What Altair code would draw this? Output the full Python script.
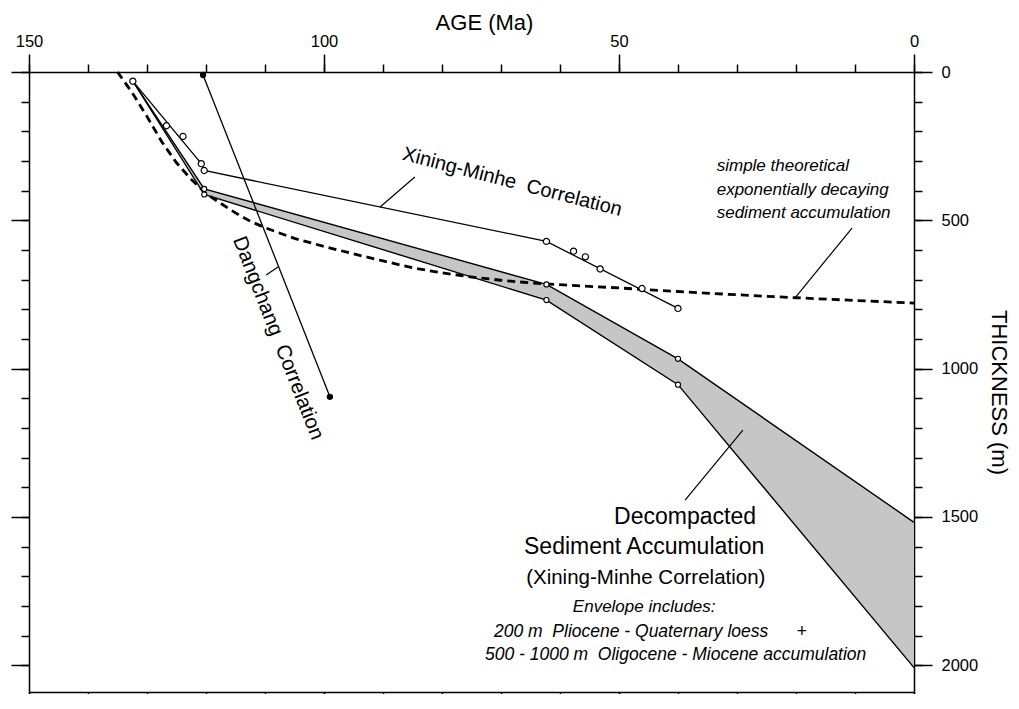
import altair as alt
import pandas as pd

# ---------------- data ----------------
# Dangchang correlation (filled dots)
dang_age = [120.5, 99.0]
dang_thk = [10, 1095]

# Xining-Minhe correlation: line vertices and observed points
xm_line_age = [132.4, 120.8, 120.3, 62.3, 40.0]
xm_line_thk = [31, 309, 332, 571, 797]
xm_pt_age = [132.4, 126.7, 123.9, 120.8, 120.3, 62.3, 57.7, 55.7, 53.2, 46.1, 40.0]
xm_pt_thk = [31, 181, 217, 309, 332, 571, 604, 623, 664, 730, 797]

# Decompacted sediment accumulation envelope
dec_age = [132.4, 120.3, 62.3, 40.0, 0.0]
dec_upper = [31, 394, 716, 967, 1518]
dec_lower = [31, 413, 769, 1054, 2008]
dec_pt_age = [120.3, 120.3, 62.3, 62.3, 40.0, 40.0]
dec_pt_thk = [394, 413, 716, 769, 967, 1054]

# simple theoretical exponentially decaying sediment accumulation
exp_age = [135, 132.5, 130, 127.5, 125, 122.5, 120, 117.5, 115, 112.5, 110, 105,
           100, 95, 90, 85, 80, 75, 70, 65, 60, 50, 40, 30, 20, 10, 0]
exp_thk = [0, 70, 150, 235, 306, 362, 410, 443, 475, 503, 525, 561,
           588, 613, 637, 660, 677, 691, 702, 711, 717, 728, 740, 751, 761, 770, 779]

# axis ticks
age_major = [0, 50, 100, 150]
age_minor = list(range(0, 151, 10))
thk_major = [0, 500, 1000, 1500, 2000]
thk_minor = list(range(0, 2001, 100))

FONT = "Liberation Sans"
NB = "\u00a0"

xs = alt.Scale(domain=[0, 150], reverse=True, nice=False, zero=False)
ys = alt.Scale(domain=[0, 2090], reverse=True, nice=False, zero=False)


def X(field="age", axis=None):
    return alt.X(f"{field}:Q", scale=xs, axis=axis)


def Y(field="thk", axis=None):
    return alt.Y(f"{field}:Q", scale=ys, axis=axis)


common_axis = dict(
    domainColor="black", domainWidth=1.5, tickColor="black", tickWidth=1.5,
    grid=False, labelFont=FONT, labelColor="black", labelFontSize=16.5,
    labelFlush=False, labelOverlap=False, labelBound=False, format="d",
    titleFont=FONT, titleColor="black", titleFontWeight="normal",
)

top_major = alt.Axis(
    orient="top", values=age_major, tickSize=18, labelPadding=5,
    title="AGE (Ma)", titleFontSize=22, titleX=455, titleY=-50,
    titleBaseline="middle", titleAlign="center", titleAngle=0,
    **common_axis,
)
top_minor = alt.Axis(orient="top", values=age_minor, tickSize=8, labels=False,
                     title=None, domain=False, **common_axis)
bottom_major = alt.Axis(orient="bottom", values=age_major, tickSize=18, labels=False,
                        title=None, **common_axis)
bottom_minor = alt.Axis(orient="bottom", values=age_minor, tickSize=8, labels=False,
                        title=None, domain=False, **common_axis)
right_major = alt.Axis(
    orient="right", values=thk_major, tickSize=18,
    labelPadding=9, labelAlign="left", labelBaseline="middle",
    title="THICKNESS (m)", titleFontSize=22, titleAngle=90, titleX=84, titleY=320,
    titleBaseline="middle", titleAlign="center",
    **common_axis,
)
right_minor = alt.Axis(orient="right", values=thk_minor, tickSize=8, labels=False,
                       title=None, domain=False, **common_axis)
left_major = alt.Axis(orient="left", values=thk_major, tickSize=18, labels=False,
                      title=None, **common_axis)
left_minor = alt.Axis(orient="left", values=thk_minor, tickSize=8, labels=False,
                      title=None, domain=False, **common_axis)

env_df = pd.DataFrame({"age": dec_age, "upper": dec_upper, "lower": dec_lower})
edge_df = pd.DataFrame({
    "age": dec_age + dec_age,
    "thk": dec_upper + dec_lower,
    "edge": ["upper"] * len(dec_age) + ["lower"] * len(dec_age),
})
exp_df = pd.DataFrame({"age": exp_age, "thk": exp_thk})
xm_line_df = pd.DataFrame({"age": xm_line_age, "thk": xm_line_thk})
xm_pt_df = pd.DataFrame({"age": xm_pt_age, "thk": xm_pt_thk})
dec_pt_df = pd.DataFrame({"age": dec_pt_age, "thk": dec_pt_thk})
dang_df = pd.DataFrame({"age": dang_age, "thk": dang_thk})

# envelope (carries top + right major axes)
area = alt.Chart(env_df).mark_area(color="#c6c6c6", opacity=1).encode(
    x=X("age", top_major), y=Y("upper", right_major), y2="lower:Q"
)
edges = alt.Chart(edge_df).mark_line(color="black", strokeWidth=1.4).encode(
    x=X("age", top_minor), y=Y("thk", right_minor), detail="edge:N"
)
# dashed theoretical curve (carries bottom + left major axes)
exp_line = alt.Chart(exp_df).mark_line(
    color="black", strokeWidth=2.8, strokeDash=[8, 5]
).encode(x=X("age", bottom_major), y=Y("thk", left_major))

xm_line = alt.Chart(xm_line_df).mark_line(color="black", strokeWidth=1.3).encode(
    x=X("age", bottom_minor), y=Y("thk", left_minor)
)
dang_line = alt.Chart(dang_df).mark_line(color="black", strokeWidth=1.3).encode(x=X(), y=Y())

xm_pts = alt.Chart(xm_pt_df).mark_point(
    shape="circle", filled=True, fill="white", stroke="black", strokeWidth=1.2, size=38, opacity=1
).encode(x=X(), y=Y())
dec_pts = alt.Chart(dec_pt_df).mark_point(
    shape="circle", filled=True, fill="white", stroke="black", strokeWidth=1.1, size=26, opacity=1
).encode(x=X(), y=Y())
dang_pts = alt.Chart(dang_df).mark_point(
    shape="circle", filled=True, color="black", size=40, opacity=1
).encode(x=X(), y=Y())

# leader lines (data coordinates)
leaders_df = pd.DataFrame({
    "age": [90.5, 109.8, 20.2, 38.8],
    "thk": [455, 684, 762, 1443],
    "age2": [84.6, 107.8, 10.5, 29.0],
    "thk2": [354, 657, 526, 1207],
})
leaders = alt.Chart(leaders_df).mark_rule(color="black", strokeWidth=1.2).encode(
    x=X(), y=Y(), x2="age2:Q", y2="thk2:Q"
)


def label(df, **kw):
    base = dict(font=FONT, color="black", baseline="middle")
    base.update(kw)
    return alt.Chart(pd.DataFrame(df)).mark_text(**base).encode(x=X(), y=Y(), text="txt:N")


t_xm = label({"age": [68.1], "thk": [371], "txt": ["Xining-Minhe" + NB + " Correlation"]},
             fontSize=20, angle=14.5, align="center")
t_dang = label({"age": [107.8], "thk": [897], "txt": ["Dangchang" + NB + " Correlation"]},
               fontSize=20.5, angle=68.5, align="center")
t_theory = label({"age": [33.44, 33.44, 33.44], "thk": [317, 398, 475],
                  "txt": ["simple theoretical", "exponentially decaying", "sediment accumulation"]},
                 fontSize=17, fontStyle="italic", align="left")
t_dec_big = label({"age": [38.81, 45.73], "thk": [1499, 1600],
                   "txt": ["Decompacted", "Sediment Accumulation"]},
                  fontSize=23, align="center")
t_dec_sub = label({"age": [45.46], "thk": [1706], "txt": ["(Xining-Minhe Correlation)"]},
                  fontSize=20.5, align="center")
t_env = label({"age": [45.73], "thk": [1805], "txt": ["Envelope includes:"]},
              fontSize=17, fontStyle="italic", align="center")
t_env_lines = label({"age": [71.19, 72.71], "thk": [1887, 1965],
                     "txt": ["200 m" + NB + " Pliocene - Quaternary loess",
                             "500 - 1000 m" + NB + " Oligocene - Miocene accumulation"]},
                    fontSize=17.5, fontStyle="italic", align="left")
t_plus = label({"age": [19.03], "thk": [1887], "txt": ["+"]},
               fontSize=17.5, fontStyle="italic", align="center")

chart = alt.layer(
    area, edges, exp_line, xm_line, dang_line, xm_pts, dec_pts, dang_pts, leaders,
    t_xm, t_dang, t_theory, t_dec_big, t_dec_sub, t_env, t_env_lines, t_plus,
).resolve_axis(x="independent", y="independent").properties(
    width=885, height=620,
    padding={"left": 21, "top": 64, "right": 97, "bottom": 2},
    autosize=alt.AutoSizeParams(type="none"),
    background="white",
).configure_view(stroke=None).configure(font=FONT)

chart.save("out.html", embed_options={"renderer": "svg", "actions": False})
